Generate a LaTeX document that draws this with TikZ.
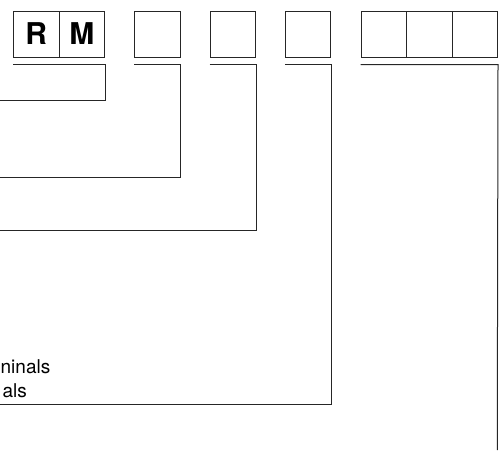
\documentclass[tikz,border=0pt]{standalone}
\usepackage{fontspec}
\setmainfont{TeX Gyre Heros}
\usepackage{tikz}

\begin{document}
\begin{tikzpicture}[x=1pt, y=-1pt,
    cell/.style={draw=black!85, line width=1pt, minimum width=45.5pt,
                 minimum height=46pt, inner sep=0pt,
                 font=\fontsize{30}{30}\selectfont\bfseries},
    lead/.style={draw=black!85, line width=1pt},
    note/.style={anchor=base east, inner sep=0pt,
                 font=\fontsize{19}{24}\selectfont}]
  \useasboundingbox (0,0) rectangle (502,451);
  % code boxes along the top
  \node[cell] (r)  at (36.25,34) {R};
  \node[cell] (m)  at (81.75,34) {M};
  \node[cell] (b2) at (157.25,34) {};
  \node[cell] (b3) at (232.75,34) {};
  \node[cell] (b4) at (308,34) {};
  \node[cell] (c1) at (383.75,34) {};
  \node[cell] (c2) at (429.25,34) {};
  \node[cell] (c3) at (474.75,34) {};
  % free ends of the leader lines
  \coordinate (e1) at (0,100);
  \coordinate (e2) at (0,177);
  \coordinate (e3) at (0,230.5);
  \coordinate (e4) at (0,404);
  \coordinate (e5) at (497.25,450);
  % leader lines under each group
  \draw[lead] ([yshift=-7pt]r.south west) -- ([yshift=-7pt]m.south east) |- (e1);
  \draw[lead] ([yshift=-7pt]b2.south west) -- ([yshift=-7pt]b2.south east) |- (e2);
  \draw[lead] ([yshift=-7pt]b3.south west) -- ([yshift=-7pt]b3.south east) |- (e3);
  \draw[lead] ([yshift=-7pt]b4.south west) -- ([yshift=-7pt]b4.south east) |- (e4);
  \draw[lead] ([yshift=-7pt]c1.south west) -- ([yshift=-7pt]c3.south east) -- (e5);
  % labels at the left edge
  \node[note] (t1) at (50.5,373) {ninals};
  \node[note] (t2) at (27,397.5) {als};
\end{tikzpicture}
\end{document}
